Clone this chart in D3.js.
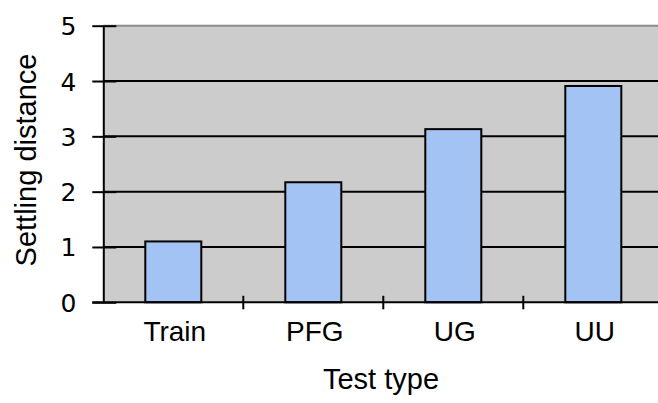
<!DOCTYPE html>
<html><head><meta charset="utf-8">
<script src="https://cdn.jsdelivr.net/npm/d3@7"></script>
<style>html,body{margin:0;padding:0;background:#fff;overflow:hidden}</style>
</head><body>
<svg id="c" width="658" height="403"></svg>
<script>
const categories = ["Train", "PFG", "UG", "UU"];
const values = [1.1, 2.17, 3.13, 3.91];
const yTicks = [0, 1, 2, 3, 4, 5];
const xTitle = "Test type";
const yTitle = "Settling distance";

const svg = d3.select("#c");
const font = "'Liberation Sans', Arial, Helvetica, sans-serif";
const tickFont = "'DejaVu Sans', sans-serif";
const pLeft = 103.3, pRight = 663.3, pTop = 25.7, pBottom = 302.3;

const x = d3.scaleBand().domain(categories).range([pLeft, pRight]).paddingInner(0.6).paddingOuter(0.3);
const y = d3.scaleLinear().domain([0, 5]).range([pBottom, pTop]);

// background
svg.append("rect").attr("x", pLeft).attr("y", y(5)).attr("width", pRight - pLeft).attr("height", y(0) - y(5)).attr("fill", "#cccccc");
// top border
svg.append("line").attr("x1", pLeft).attr("x2", pRight).attr("y1", y(5)).attr("y2", y(5)).attr("stroke", "#8c8c8c").attr("stroke-width", 2);
// gridlines
svg.append("g").selectAll("line").data(yTicks.filter(t => t > 0 && t < 5)).join("line")
  .attr("x1", pLeft).attr("x2", pRight).attr("y1", d => y(d)).attr("y2", d => y(d))
  .attr("stroke", "#000").attr("stroke-width", 2);

// bars
svg.append("g").selectAll("rect").data(categories).join("rect")
  .attr("x", d => x(d)).attr("width", x.bandwidth())
  .attr("y", (d, i) => y(values[i])).attr("height", (d, i) => y(0) - y(values[i]))
  .attr("fill", "#a3c3f5").attr("stroke", "#000").attr("stroke-width", 2);

// y axis
const yAxis = d3.axisLeft(y).tickValues(yTicks).tickSizeInner(11).tickSizeOuter(0).tickPadding(16).tickFormat(d3.format("d"));
const gy = svg.append("g").attr("transform", `translate(${pLeft},0)`).call(yAxis);
gy.select(".domain").attr("stroke", "#000").attr("stroke-width", 2);
gy.selectAll(".tick line").attr("stroke", "#000").attr("stroke-width", 2).attr("x2", 13).attr("x1", -11);
gy.selectAll(".tick text").attr("font-family", tickFont).attr("font-size", 25).attr("fill", "#000").attr("dy", "0.36em");

// x axis line
svg.append("line").attr("x1", pLeft - 11).attr("x2", pRight).attr("y1", y(0)).attr("y2", y(0)).attr("stroke", "#000").attr("stroke-width", 2);
// x category separators
const step = x.step();
svg.append("g").selectAll("line").data(categories).join("line")
  .attr("x1", d => x(d) + x.bandwidth() + (step - x.bandwidth()) / 2)
  .attr("x2", d => x(d) + x.bandwidth() + (step - x.bandwidth()) / 2)
  .attr("y1", y(0) - 6.5).attr("y2", y(0) + 7)
  .attr("stroke", "#000").attr("stroke-width", 2);
// x labels
svg.append("g").selectAll("text").data(categories).join("text")
  .attr("x", d => x(d) + x.bandwidth() / 2 + 1.5).attr("y", 340.7)
  .attr("text-anchor", "middle").attr("font-family", font).attr("font-size", 28).attr("fill", "#000")
  .text(d => d);

// titles
svg.append("text").attr("x", 381).attr("y", 389.3).attr("text-anchor", "middle")
  .attr("font-family", font).attr("font-size", 29).attr("fill", "#000").text(xTitle);
svg.append("text").attr("transform", "translate(36,160) rotate(-90)").attr("text-anchor", "middle")
  .attr("font-family", font).attr("font-size", 29).attr("fill", "#000").text(yTitle);
</script>
</body></html>
